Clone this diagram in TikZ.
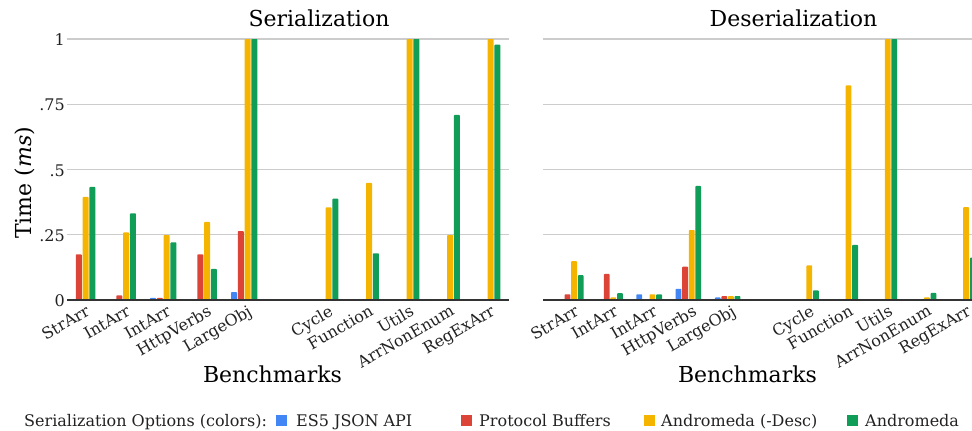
\documentclass[tikz,border=0pt]{standalone}
\usepackage{fontspec}
\setmainfont{DejaVu Serif}
\definecolor{gblue}{HTML}{4285F4}
\definecolor{gred}{HTML}{DB4437}
\definecolor{gyellow}{HTML}{F4B400}
\definecolor{ggreen}{HTML}{0F9D58}
\definecolor{gridgray}{HTML}{CCCCCC}
\definecolor{basegray}{HTML}{333333}
\definecolor{txt}{HTML}{222222}
\newcommand{\chartbar}[4]{\fill[#4,rounded corners=0.8pt] (#1,300.5) rectangle ({#1+#2},{300-261*#3});}
\begin{document}
\begin{tikzpicture}[x=1pt,y=-1pt,
  gridline/.style={draw=gridgray,line width=1.3pt},
  baseline/.style={draw=basegray,line width=1.4pt},
  titletext/.style={font=\fontsize{22}{26}\selectfont,text=black,inner sep=0pt},
  ticktext/.style={font=\fontsize{16}{19}\selectfont,text=txt,inner sep=0pt,anchor=base east},
  catlabel/.style={font=\fontsize{16}{19}\selectfont,text=txt,inner sep=0pt,rotate=30,anchor=north east},
  legtext/.style={font=\fontsize{16}{19}\selectfont,text=txt,inner sep=0pt,anchor=base west},
  legsq/.style={minimum size=11pt,inner sep=0pt,draw=none}]
\useasboundingbox (0,0) rectangle (972,431);
\begin{scope}
\clip (0,0) rectangle (972,431);
% gridlines
\foreach \k in {1,2,3,4}{
  \draw[gridline] (67,{300-65.25*\k}) -- (509,{300-65.25*\k});
  \draw[gridline] (543,{300-65.25*\k}) -- (972,{300-65.25*\k});
}
% left bars
\foreach \i/\va/\vb/\vc/\vd in {0/.003/.175/.395/.433, 1/.003/.018/.259/.332, 2/.008/.008/.249/.221, 3/.003/.175/.299/.119, 4/.03/.264/1/1}{
  \pgfmathsetmacro\x{69+40.5*\i}
  \chartbar{\x}{6}{\va}{gblue}
  \chartbar{\x+6.8}{6}{\vb}{gred}
  \chartbar{\x+13.6}{6}{\vc}{gyellow}
  \chartbar{\x+20.4}{6}{\vd}{ggreen}
}
\foreach \i/\vc/\vd in {6/.355/.388, 7/.449/.179, 8/1/1, 9/.249/.709, 10/1/.978}{
  \pgfmathsetmacro\x{69+40.5*\i}
  \chartbar{\x+13.6}{6}{\vc}{gyellow}
  \chartbar{\x+20.4}{6}{\vd}{ggreen}
}
% right bars
\foreach \i/\va/\vb/\vc/\vd in {0/.003/.022/.149/.095, 1/.003/.1/.01/.026, 2/.022/.003/.022/.022, 3/.043/.128/.268/.437, 4/.01/.015/.015/.015}{
  \pgfmathsetmacro\x{558+39.2*\i}
  \chartbar{\x}{5.8}{\va}{gblue}
  \chartbar{\x+6.6}{5.8}{\vb}{gred}
  \chartbar{\x+13.2}{5.8}{\vc}{gyellow}
  \chartbar{\x+19.8}{5.8}{\vd}{ggreen}
}
\foreach \i/\vc/\vd in {6/.133/.037, 7/.822/.211, 8/1/1, 9/.01/.027, 10/.356/.162}{
  \pgfmathsetmacro\x{558+39.2*\i}
  \chartbar{\x+13.2}{5.8}{\vc}{gyellow}
  \chartbar{\x+19.8}{5.8}{\vd}{ggreen}
}
% baselines
\draw[baseline] (67,300) -- (509,300);
\draw[baseline] (543,300) -- (972,300);
\end{scope}
% y tick labels
\node[ticktext] (t1) at (65,45.5) {1};
\node[ticktext] (t075) at (65,110.75) {.75};
\node[ticktext] (t05) at (65,176) {.5};
\node[ticktext] (t025) at (65,241.25) {.25};
\node[ticktext] (t0) at (65,306.5) {0};
% category labels
\foreach \i/\t in {0/StrArr,1/IntArr,2/IntArr,3/HttpVerbs,4/LargeObj,6/Cycle,7/Function,8/Utils,9/ArrNonEnum,10/RegExArr}{
  \node[catlabel] (L\i) at ({69+40.5*\i+16},304) {\t};
  \node[catlabel] (R\i) at ({558+39.2*\i+16},304) {\t};
}
% titles and axis titles
\node[titletext,anchor=base] (titleL) at (319,27) {Serialization};
\node[titletext,anchor=base] (titleR) at (793.5,27) {Deserialization};
\node[titletext,anchor=base] (xlabL) at (272.5,382) {Benchmarks};
\node[titletext,anchor=base] (xlabR) at (747.5,382) {Benchmarks};
\node[titletext,rotate=90,anchor=center] (ylab) at (24.5,183) {Time (\textit{ms})};
% legend
\node[legtext] (legtitle) at (24,426.5) {Serialization Options (colors):};
\node[legsq,fill=gblue] (sq1) at (281.5,420.5) {};
\node[legtext] (leg1) at (296,426.5) {ES5 JSON API};
\node[legsq,fill=gred] (sq2) at (466,420.5) {};
\node[legtext] (leg2) at (479,426.5) {Protocol Buffers};
\node[legsq,fill=gyellow] (sq3) at (649,420.5) {};
\node[legtext] (leg3) at (661,426.5) {Andromeda (-Desc)};
\node[legsq,fill=ggreen] (sq4) at (852,420.5) {};
\node[legtext] (leg4) at (865,426.5) {Andromeda};
\end{tikzpicture}
\end{document}
